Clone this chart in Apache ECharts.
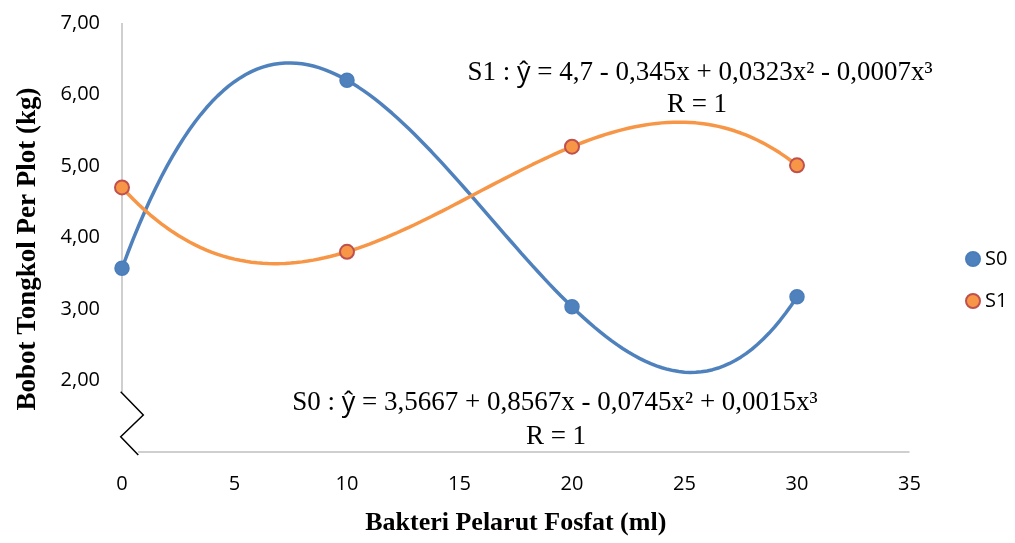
<!DOCTYPE html>
<html><head><meta charset="utf-8">
<script src="https://cdn.jsdelivr.net/npm/echarts@6/dist/echarts.min.js"></script>
<style>html,body{margin:0;padding:0;background:#fff}#c{width:1015px;height:543px}</style>
</head><body><div id="c"></div>
<script>
// ---- data ----
const xValues = [0, 10, 20, 30];
const s0Values = [3.57, 6.20, 3.03, 3.17];
const s1Values = [4.70, 3.80, 5.27, 5.01];
const xTicks = [0, 5, 10, 15, 20, 25, 30, 35];
const yTicks = [2, 3, 4, 5, 6, 7];
const seriesNames = ['S0', 'S1'];
const eqS1 = ['S1 : ', 'ŷ', ' = 4,7 - 0,345x + 0,0323x² - 0,0007x³', 'R = 1'];
const eqS0 = ['S0 : ', 'ŷ', ' = 3,5667 + 0,8567x - 0,0745x² + 0,0015x³', 'R = 1'];
const yTitle = 'Bobot Tongkol Per Plot (kg)';
const xTitle = 'Bakteri Pelarut Fosfat (ml)';

const SANS = "'Open Sans', 'Noto Sans', sans-serif";
const SERIF = "'Liberation Serif', 'Times New Roman', serif";

// polynomial (order 3) trendline, least squares like the spreadsheet trendline
function polyFit(xs, ys, order) {
  const n = order + 1;
  const A = [], b = [];
  for (let i = 0; i < n; i++) {
    A.push(new Array(n).fill(0)); b.push(0);
    for (let k = 0; k < xs.length; k++) {
      for (let j = 0; j < n; j++) A[i][j] += Math.pow(xs[k], i + j);
      b[i] += ys[k] * Math.pow(xs[k], i);
    }
  }
  for (let c = 0; c < n; c++) {
    let p = c;
    for (let r = c + 1; r < n; r++) if (Math.abs(A[r][c]) > Math.abs(A[p][c])) p = r;
    [A[c], A[p]] = [A[p], A[c]]; [b[c], b[p]] = [b[p], b[c]];
    for (let r = 0; r < n; r++) {
      if (r === c) continue;
      const f = A[r][c] / A[c][c];
      for (let j = c; j < n; j++) A[r][j] -= f * A[c][j];
      b[r] -= f * b[c];
    }
  }
  return b.map((v, i) => v / A[i][i]);
}
function trend(xs, ys) {
  const co = polyFit(xs, ys, 3);
  const out = [];
  const x0 = Math.min(...xs), x1 = Math.max(...xs);
  for (let x = x0; x <= x1 + 1e-9; x += 0.25) {
    let y = 0; for (let i = 0; i < co.length; i++) y += co[i] * Math.pow(x, i);
    out.push([x, y]);
  }
  return out;
}

const chart = echarts.init(document.getElementById('c'), null, {renderer: 'canvas'});
const option = {
  animation: false,
  backgroundColor: '#fff',
  grid: {left: 122, right: 105.5, top: 23, bottom: 91, containLabel: false},
  xAxis: {
    type: 'value', min: xTicks[0], max: xTicks[xTicks.length - 1], interval: 5,
    axisLine: {show: false}, axisTick: {show: false}, splitLine: {show: false},
    axisLabel: {fontFamily: SANS, fontSize: 20, color: '#000', margin: 22}
  },
  yAxis: {
    type: 'value', min: 1, max: yTicks[yTicks.length - 1], interval: 1,
    axisLine: {show: false}, axisTick: {show: false}, splitLine: {show: false},
    axisLabel: {
      fontFamily: SANS, fontSize: 20, color: '#000', margin: 22,
      formatter: v => yTicks.indexOf(v) >= 0 ? v.toFixed(2).replace('.', ',') : ''
    }
  },
  legend: {
    data: seriesNames, orient: 'vertical', left: 960, top: 244,
    icon: 'circle', itemWidth: 14, itemHeight: 14, itemGap: 22,
    textStyle: {fontFamily: SANS, fontSize: 20, color: '#000'}
  },
  series: [
    {name: 'S0 trend', type: 'line', data: trend(xValues, s0Values), showSymbol: false, silent: true,
     lineStyle: {color: '#4F81BD', width: 3.5}, z: 2},
    {name: 'S1 trend', type: 'line', data: trend(xValues, s1Values), showSymbol: false, silent: true,
     lineStyle: {color: '#F79646', width: 3.5}, z: 2},
    {name: seriesNames[0], type: 'scatter', data: xValues.map((x, i) => [x, s0Values[i]]), symbolSize: 14,
     itemStyle: {color: '#4F81BD', borderColor: '#4A7EBB', borderWidth: 1.5, opacity: 1}, z: 3},
    {name: seriesNames[1], type: 'scatter', data: xValues.map((x, i) => [x, s1Values[i]]), symbolSize: 14,
     itemStyle: {color: '#F79646', borderColor: '#C0504D', borderWidth: 2, opacity: 1}, z: 3}
  ]
};
chart.setOption(option);

// axis lines with break mark, titles and equations
const P = (x, y) => chart.convertToPixel({gridIndex: 0}, [x, y]);
const pTop = P(0, 7), pOrigin = P(0, 1), pEnd = P(35, 1);
const ax = pOrigin[0], ay = pOrigin[1];
const eqRich = {
  t: {fontFamily: SERIF, fontSize: 27, fill: '#000'},
  h: {fontFamily: SANS, fontSize: 27, fill: '#000'}
};
const eqText = (e) => '{t|' + e[0] + '}{h|' + e[1] + '}{t|' + e[2] + '}';
chart.setOption({
  graphic: [
    {type: 'line', shape: {x1: ax, y1: pTop[1], x2: ax, y2: ay - 60}, style: {stroke: '#BFBFBF', lineWidth: 1.5}, silent: true},
    {type: 'line', shape: {x1: ax + 16, y1: ay, x2: pEnd[0], y2: ay}, style: {stroke: '#BFBFBF', lineWidth: 1.5}, silent: true},
    {type: 'polyline', shape: {points: [[ax - 1.3, ay - 60.3], [ax + 21.3, ay - 37], [ax - 1.3, ay - 15.3], [ax + 16.3, ay + 3]]},
     style: {stroke: '#000', lineWidth: 1.5, fill: null}, silent: true},
    {type: 'text', x: 28, y: 249, rotation: Math.PI / 2,
     style: {text: yTitle, font: 'bold 27px ' + SERIF, fill: '#000', align: 'center', verticalAlign: 'middle'}},
    {type: 'text', x: (ax + pEnd[0]) / 2, y: 523,
     style: {text: xTitle, font: 'bold 26px ' + SERIF, fill: '#000', align: 'center', verticalAlign: 'middle'}},
    {type: 'text', x: 700, y: 73,
     style: {text: eqText(eqS1), rich: eqRich, font: '27px ' + SERIF, fill: '#000', align: 'center', verticalAlign: 'middle'}},
    {type: 'text', x: 697, y: 105,
     style: {text: eqS1[3], font: '27px ' + SERIF, fill: '#000', align: 'center', verticalAlign: 'middle'}},
    {type: 'text', x: 555, y: 403,
     style: {text: eqText(eqS0), rich: eqRich, font: '27px ' + SERIF, fill: '#000', align: 'center', verticalAlign: 'middle'}},
    {type: 'text', x: 556, y: 437,
     style: {text: eqS0[3], font: '27px ' + SERIF, fill: '#000', align: 'center', verticalAlign: 'middle'}}
  ]
});
</script>
</body></html>
